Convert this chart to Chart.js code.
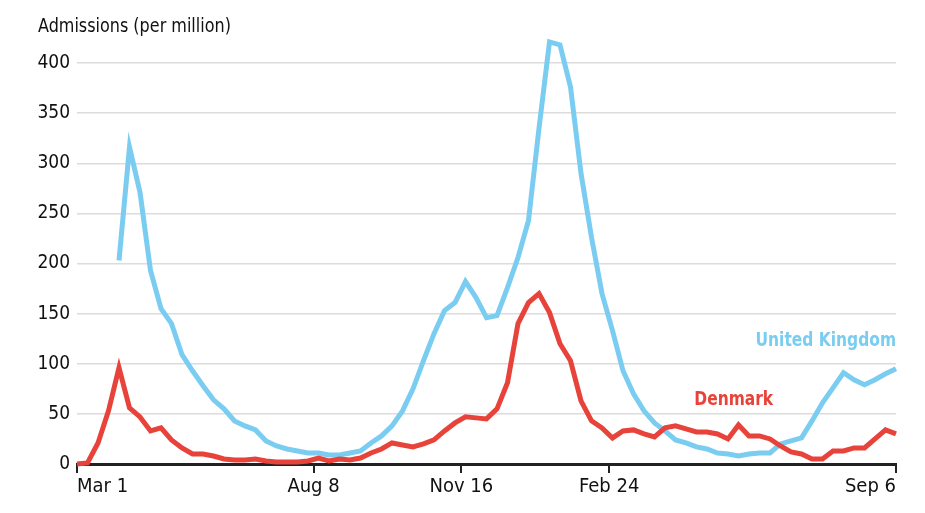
<!DOCTYPE html>
<html>
<head>
<meta charset="utf-8">
<script src="https://cdn.jsdelivr.net/npm/chart.js@4.4.0/dist/chart.umd.min.js"></script>
<style>
  html, body { margin: 0; padding: 0; background: #ffffff; }
  #wrap { position: relative; width: 925px; height: 513px; }
</style>
</head>
<body>
<div id="wrap"><canvas id="chart"></canvas></div>
<script>
// weekly hospital admissions per million, Mar 1 2020 .. Sep 6 2021
const denmark = [
  0, 1, 21, 53, 96, 56, 47, 33, 36, 24,
  16, 10, 10, 8, 5, 4, 4, 5, 3, 2,
  2, 2, 3, 6, 3, 5, 4, 6, 11, 15,
  21, 19, 17, 20, 24, 33, 41, 47, 46, 45,
  55, 81, 140, 161, 170, 151, 120, 103, 63, 43,
  36, 26, 33, 34, 30, 27, 36, 38, 35, 32,
  32, 30, 25, 39, 28, 28, 25, 18, 12, 10,
  5, 5, 13, 13, 16, 16, 25, 34, 30
];
const unitedKingdom = [
  null, null, null, null, 203, 316, 271, 193, 155, 140,
  109, 93, 78, 64, 55, 43, 38, 34, 23, 18,
  15, 13, 11, 11, 9, 9, 11, 13, 21, 28,
  38, 53, 75, 103, 130, 153, 161, 182, 166, 146,
  148, 176, 206, 243, 335, 421, 418, 376, 290, 226,
  170, 133, 93, 70, 53, 41, 33, 24, 21, 17,
  15, 11, 10, 8, 10, 11, 11, 20, 23, 26,
  43, 61, 76, 91, 84, 79, 84, 90, 95
];
const tickLabels = ['Mar 1', 'Aug 8', 'Nov 16', 'Feb 24', 'Sep 6'];
const tickDays = [0, 160, 260, 360, 554];   // days after Mar 1 2020
const totalDays = 554;

const weeks = denmark.map((_, i) => i);
const lastWeek = weeks.length - 1;
const tickPos = tickDays.map(d => d / totalDays * lastWeek);

const BLUE = '#7acdf1';
const RED = '#e8433a';
const FONT = "'Liberation Sans Narrow', 'DejaVu Sans Condensed', 'Roboto', sans-serif";

const seriesLabels = [
  { text: 'United Kingdom', color: BLUE, x: lastWeek, y: 123 },
  { text: 'Denmark', color: RED, x: 66.3, y: 64 }
];

// narrow-looking text: squeeze horizontally, the reference face is condensed
function narrowText(ctx, text, x, y, squeeze) {
  ctx.save();
  ctx.translate(x, y);
  ctx.scale(squeeze, 1);
  ctx.fillText(text, 0, 0);
  ctx.restore();
}

const annotate = {
  id: 'annotate',
  afterDatasetsDraw(chart) {
    const { ctx, scales } = chart;
    ctx.save();
    ctx.textBaseline = 'middle';
    ctx.textAlign = 'right';
    ctx.font = 'bold 20px ' + FONT;
    seriesLabels.forEach(l => {
      ctx.fillStyle = l.color;
      narrowText(ctx, l.text, scales.x.getPixelForValue(l.x), scales.y.getPixelForValue(l.y), 0.86);
    });
    ctx.textAlign = 'left';
    ctx.fillStyle = '#111';
    ctx.font = '20px ' + FONT;
    narrowText(ctx, 'Admissions (per million)', 38, 27, 0.89);
    ctx.restore();
  }
};

new Chart(document.getElementById('chart'), {
  type: 'line',
  data: {
    labels: weeks,
    datasets: [
      {
        label: 'Denmark',
        data: denmark,
        borderColor: RED,
        borderWidth: 5,
        pointRadius: 0,
        tension: 0,
        clip: false
      },
      {
        label: 'United Kingdom',
        data: unitedKingdom,
        borderColor: BLUE,
        borderWidth: 5,
        pointRadius: 0,
        tension: 0,
        clip: false
      }
    ]
  },
  options: {
    responsive: true,
    maintainAspectRatio: false,
    animation: false,
    layout: { padding: { top: 63, right: 29, left: 0, bottom: 0 } },
    plugins: {
      legend: { display: false },
      tooltip: { enabled: false }
    },
    scales: {
      x: {
        type: 'linear',
        min: 0,
        max: lastWeek,
        afterBuildTicks: (scale) => { scale.ticks = tickPos.map(v => ({ value: v })); },
        afterFit: (scale) => { scale.height = 49; },
        ticks: {
          autoSkip: false,
          maxRotation: 0,
          align: 'inner',
          padding: 2,
          color: '#111',
          font: { family: FONT, size: 20 },
          callback: (value, index) => tickLabels[index]
        },
        grid: {
          drawOnChartArea: false,
          drawTicks: true,
          tickLength: 9,
          color: '#222',
          lineWidth: 2
        },
        border: { display: true, color: '#222', width: 3 }
      },
      y: {
        min: 0,
        max: 400,
        afterFit: (scale) => { scale.width = 77; },
        ticks: {
          stepSize: 50,
          padding: 7,
          color: '#111',
          font: { family: FONT, size: 19 }
        },
        grid: {
          color: '#dcdcdc',
          lineWidth: 1.5,
          drawTicks: false
        },
        border: { display: false }
      }
    }
  },
  plugins: [annotate]
});
</script>
</body>
</html>
